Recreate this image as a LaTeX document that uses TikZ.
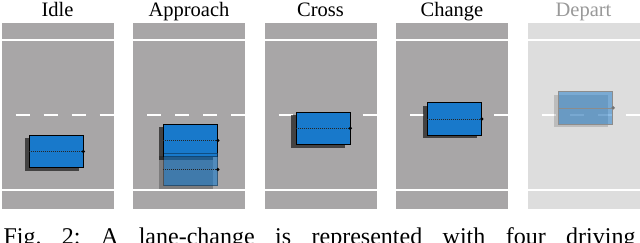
\documentclass[tikz,border=0pt]{standalone}
\usepackage{fontspec}
\setmainfont{Liberation Serif}
\usetikzlibrary{shadows}
\definecolor{roadgray}{RGB}{168,166,167}
\definecolor{roadlight}{RGB}{221,221,221}
\definecolor{carblue}{RGB}{24,121,203}
\begin{document}
\begin{tikzpicture}[x=1pt,y=-1pt,
  road/.style={fill=roadgray, draw=none, minimum width=112pt, minimum height=186.5pt, anchor=north west, inner sep=0pt, outer sep=0pt},
  roadfade/.style={road, fill=roadlight},
  lanel/.style={white, line width=2pt},
  dashl/.style={white, line width=2pt, dash pattern=on 14pt off 14pt, dash phase=14pt},
  title/.style={anchor=base, font=\fontsize{20.5}{24}\selectfont, inner sep=0pt},
  car/.style={fill=carblue, draw=black, line width=0.8pt, minimum width=54pt, minimum height=32.5pt, inner sep=0pt,
    drop shadow={shadow xshift=-4.5pt, shadow yshift=-3pt, fill=black, opacity=0.6}},
  carghost/.style={fill=carblue, fill opacity=0.6, draw=black, draw opacity=0.35, line width=0.8pt, minimum width=54pt, minimum height=32.5pt, inner sep=0pt,
    drop shadow={shadow xshift=-4.5pt, shadow yshift=-3pt, fill=black, opacity=0.25}},
  carfade/.style={fill=carblue, fill opacity=0.5, draw=black!45, line width=0.8pt, minimum width=54pt, minimum height=32.5pt, inner sep=0pt,
    drop shadow={shadow xshift=-4.5pt, shadow yshift=-3pt, fill=black, opacity=0.15}},
  axis/.style={black!85, line width=0.6pt, dash pattern=on 1pt off 1pt},
  dot/.style={circle, fill=black, inner sep=0pt, minimum size=3.6pt}]
\useasboundingbox (0,0) rectangle (640,242);
\clip (0,0) rectangle (640,242);

% panels
\foreach \i/\L in {1/1.5,2/133,3/264.5,4/396}{
  \node[road] (p\i) at (\L,22.5) {};
  \draw[lanel] (\L,40) -- (\L+112,40);
  \draw[lanel] (\L,190.3) -- (\L+112,190.3);
  \draw[dashl] (\L,115.3) -- (\L+112,115.3);
}
\node[roadfade] (p5) at (527.5,22.5) {};
\draw[lanel] (527.5,40) -- (639.5,40);
\draw[lanel] (527.5,190.3) -- (639.5,190.3);
\draw[dashl] (527.5,115.3) -- (639.5,115.3);

% titles
\node[title] (t1) at (57.5,16.5) {Idle};
\node[title] (t2) at (189,16.5) {Approach};
\node[title] (t3) at (320.5,16.5) {Cross};
\node[title] (t4) at (452,16.5) {Change};
\node[title, text=black!40] (t5) at (583.5,16.5) {Depart};

% Idle
\node[car] (c1) at (56,151.5) {};
\draw[axis] (c1.west) -- (c1.east);
\node[dot] (d1) at (c1.east) {};

% Approach
\node[car] (c2) at (190.5,140.5) {};
\draw[axis] (c2.west) -- (c2.east);
\node[dot] (d2) at (c2.east) {};
\node[carghost] (g2) at (190.5,169.5) {};
\draw[axis] (g2.west) -- (g2.east);
\node[dot] (e2) at (g2.east) {};

% Cross
\node[car] (c3) at (322.9,128.3) {};
\draw[axis] (c3.west) -- (c3.east);
\node[dot] (d3) at (c3.east) {};

% Change
\node[car] (c4) at (454.5,119) {};
\draw[axis] (c4.west) -- (c4.east);
\node[dot] (d4) at (c4.east) {};

% Depart
\node[carfade] (c5) at (585.8,107.8) {};
\draw[black!45, line width=0.6pt] (c5.west) -- (c5.east);
\node[dot, fill=black!55] (d5) at (c5.east) {};

% caption (cut off by the frame)
\node[anchor=base west, inner sep=0pt, font=\fontsize{24}{28}\selectfont] (cap) at (3.3,244)
  {\hbox to 632pt{Fig.\hfill 2:\hfill A\hfill lane-change\hfill is\hfill represented\hfill with\hfill four\hfill driving}};
\end{tikzpicture}
\end{document}
